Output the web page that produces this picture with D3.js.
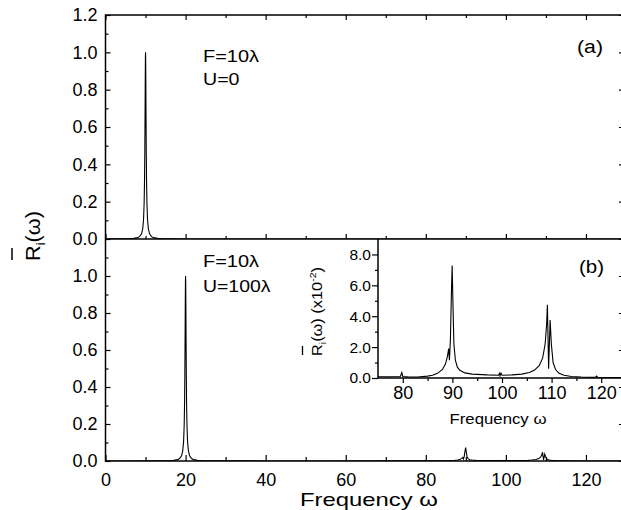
<!DOCTYPE html>
<html><head><meta charset="utf-8">
<script src="https://cdn.jsdelivr.net/npm/d3@7"></script>
<style>body{margin:0;background:#fff}svg{display:block}text{fill:#000}</style>
</head><body><svg id="c" width="621" height="510"></svg>
<script>
// ---------------- DATA ----------------
// Panel (a): F=10λ, U=0
const freqA = [0, 3, 5, 6, 7, 8, 8.5, 9, 9.3, 9.5, 9.65, 9.75, 9.82, 9.88, 9.93, 9.97, 10,
  10.03, 10.07, 10.12, 10.18, 10.25, 10.35, 10.5, 10.7, 11, 11.5, 12, 13, 14, 15, 17, 20, 30, 50, 80, 110, 130];
const valA = [0.0003, 0.0006, 0.0012, 0.0018, 0.0032, 0.0072, 0.0127, 0.028, 0.056, 0.104, 0.191, 0.316, 0.471, 0.667, 0.855, 0.970, 1.0,
  0.970, 0.855, 0.667, 0.471, 0.316, 0.191, 0.104, 0.056, 0.028, 0.0127, 0.0072, 0.0032, 0.0018, 0.0012, 0.0006, 0.0003, 0.00007, 0.00002, 0.00001, 0, 0];

// Panel (b): F=10λ, U=100λ (absolute values; the inset shows them in units of 10^-2)
const freqB = [0, 5, 10, 13, 15, 16, 17, 18, 18.5, 19, 19.3, 19.5, 19.65, 19.75, 19.82, 19.88, 19.93, 19.97, 20,
  20.03, 20.07, 20.12, 20.18, 20.25, 20.35, 20.5, 20.7, 21, 21.5, 22, 23, 24, 25, 27, 30, 40, 55, 70,
  75, 78, 79.5, 79.8, 80, 81, 83, 85, 86, 87, 88, 88.6, 89, 89.25, 89.4, 89.6, 89.8, 89.95, 90.1, 90.3,
  90.6, 91, 91.5, 92.5, 94, 97, 99.3, 99.5, 99.6, 99.8, 100, 102, 104, 105.5, 106.5, 107.5, 108.2, 108.7, 109, 109.15,
  109.4, 109.7, 109.95, 110.3, 110.8, 111.5, 112.5, 114, 116, 118.8, 119.1, 119.3, 121, 125, 130];
const valB = [0.0003, 0.0003, 0.0005, 0.0008, 0.0014, 0.002, 0.0034, 0.0074, 0.013, 0.028, 0.056, 0.104, 0.191, 0.316, 0.471, 0.667, 0.855, 0.970, 1.0,
  0.970, 0.855, 0.667, 0.471, 0.316, 0.191, 0.104, 0.056, 0.028, 0.013, 0.0074, 0.0034, 0.002, 0.0014, 0.0008, 0.0005, 0.0004, 0.0004, 0.0006,
  0.0008, 0.0008, 0.0010, 0.0035, 0.0010, 0.0007, 0.0006, 0.0012, 0.0018, 0.0030, 0.0055, 0.0090, 0.0140, 0.0190, 0.0115, 0.0250, 0.0550, 0.0728, 0.0500, 0.0220,
  0.0115, 0.0070, 0.0050, 0.0033, 0.0025, 0.0020, 0.0018, 0.0030, 0.0015, 0.0032, 0.0018, 0.0020, 0.0025, 0.0035, 0.0050, 0.0080, 0.0130, 0.0220, 0.0350, 0.0474,
  0.0060, 0.0376, 0.0220, 0.0100, 0.0055, 0.0030, 0.0018, 0.0010, 0.0006, 0.0004, 0.0012, 0.0004, 0.0003, 0.0002, 0.0002];

// Ticks
const xMajor = [0, 20, 40, 60, 80, 100, 120];
const xMinor = [10, 30, 50, 70, 90, 110, 130];
const yMajorTop = [0, 0.2, 0.4, 0.6, 0.8, 1.0, 1.2];
const yMajorBot = [0, 0.2, 0.4, 0.6, 0.8, 1.0];
const yMinor = [0.1, 0.3, 0.5, 0.7, 0.9, 1.1];
const inXMajor = [80, 90, 100, 110, 120];
const inXMinor = [85, 95, 105, 115];
const inYMajor = [0, 2, 4, 6, 8];
const inYMinor = [1, 3, 5, 7];

// Texts
const annA = ["F=10λ", "U=0"];
const annB = ["F=10λ", "U=100λ"];
const panelLabels = ["(a)", "(b)"];
const xTitle = "Frequency ω";

// ---------------- DRAW ----------------
const FONT = '"Liberation Sans", Arial, Helvetica, sans-serif';
const svg = d3.select("#c");
svg.append("rect").attr("width", 621).attr("height", 510).attr("fill", "#fff");

const L = 105.5, R = 626, T = 15, MID = 239, B = 461;
const x = d3.scaleLinear().domain([0, 130]).range([L, R]);
const yTop = d3.scaleLinear().domain([0, 1.2]).range([MID, T]);
const yBot = d3.scaleLinear().domain([0, 1.2]).range([B, MID]);
const IL = 378, IB = 378;
const xIn = d3.scaleLinear().domain([75, 125]).range([IL, R]);
const yIn = d3.scaleLinear().domain([0, 9]).range([IB, MID]);

function style(g, fs) {
  g.select(".domain").remove();
  g.attr("font-family", FONT).attr("font-size", fs);
  g.selectAll(".tick line").attr("stroke", "#000").attr("stroke-width", 1.2);
  g.selectAll(".tick text").attr("fill", "#000");
  return g;
}
function axis(fn, scale, vals, size, pad, fmt, tr, fs) {
  const a = fn(scale).tickValues(vals).tickSize(size).tickPadding(pad)
    .tickFormat(fmt ? d3.format(fmt) : () => "");
  return style(svg.append("g").attr("transform", tr).call(a), fs || 18);
}

// clip paths
const defs = svg.append("defs");
defs.append("clipPath").attr("id", "cA").append("rect").attr("x", L).attr("y", T).attr("width", R - L).attr("height", MID - T);
defs.append("clipPath").attr("id", "cB").append("rect").attr("x", L).attr("y", MID).attr("width", R - L).attr("height", B - MID);
defs.append("clipPath").attr("id", "cI").append("rect").attr("x", IL).attr("y", MID).attr("width", R - IL).attr("height", IB - MID);

// curves
const dataA = freqA.map((f, i) => [f, valA[i]]);
const dataB = freqB.map((f, i) => [f, valB[i]]);
const dataI = freqB.map((f, i) => [f, valB[i] * 100]);
svg.append("path").attr("clip-path", "url(#cA)").attr("fill", "none").attr("stroke", "#000").attr("stroke-width", 1.1)
  .attr("d", d3.line().x(d => x(d[0])).y(d => yTop(d[1]))(dataA));
svg.append("path").attr("clip-path", "url(#cB)").attr("fill", "none").attr("stroke", "#000").attr("stroke-width", 1.1)
  .attr("d", d3.line().x(d => x(d[0])).y(d => yBot(d[1]))(dataB));
svg.append("path").attr("clip-path", "url(#cI)").attr("fill", "none").attr("stroke", "#000").attr("stroke-width", 1.1)
  .attr("d", d3.line().x(d => xIn(d[0])).y(d => yIn(d[1]))(dataI));

// Top panel ticks
axis(d3.axisLeft, yTop, yMajorTop, -5, 8, ".1f", `translate(${L},0)`);
axis(d3.axisLeft, yTop, yMinor, -3, 8, null, `translate(${L},0)`);
axis(d3.axisRight, yTop, yMajorTop, -7, 8, null, `translate(${R},0)`);
axis(d3.axisRight, yTop, yMinor, -4, 8, null, `translate(${R},0)`);
axis(d3.axisTop, x, xMajor, -5, 8, null, `translate(0,${T})`);
axis(d3.axisTop, x, xMinor, -3, 8, null, `translate(0,${T})`);
axis(d3.axisBottom, x, xMajor, -5, 8, null, `translate(0,${MID})`);
axis(d3.axisBottom, x, xMinor, -3, 8, null, `translate(0,${MID})`);

// Bottom panel ticks
axis(d3.axisLeft, yBot, yMajorBot, -5, 8, ".1f", `translate(${L},0)`);
axis(d3.axisLeft, yBot, yMinor, -3, 8, null, `translate(${L},0)`);
axis(d3.axisRight, yBot, yMajorBot, -7, 8, null, `translate(${R},0)`);
axis(d3.axisRight, yBot, yMinor, -4, 8, null, `translate(${R},0)`);
axis(d3.axisBottom, x, xMajor, -6, 12, "d", `translate(0,${B})`);
axis(d3.axisBottom, x, xMinor, -4, 12, null, `translate(0,${B})`);

// frames
svg.append("rect").attr("x", L).attr("y", T).attr("width", R - L).attr("height", B - T)
  .attr("fill", "none").attr("stroke", "#000").attr("stroke-width", 1.5);
svg.append("line").attr("x1", L).attr("x2", R).attr("y1", MID).attr("y2", MID).attr("stroke", "#000").attr("stroke-width", 1.5);

// Inset axes
axis(d3.axisLeft, yIn, inYMajor, 6, 1, ".1f", `translate(${IL},0)`, 15.5);
axis(d3.axisLeft, yIn, inYMinor, 3, 1, null, `translate(${IL},0)`, 15.5);
axis(d3.axisBottom, xIn, inXMajor, 5, 3.5, "d", `translate(0,${IB})`, 18);
axis(d3.axisBottom, xIn, inXMinor, 3, 3.5, null, `translate(0,${IB})`, 18);
svg.append("line").attr("x1", IL).attr("x2", IL).attr("y1", MID).attr("y2", IB).attr("stroke", "#000").attr("stroke-width", 1.5);
svg.append("line").attr("x1", IL).attr("x2", R).attr("y1", IB).attr("y2", IB).attr("stroke", "#000").attr("stroke-width", 1.5);

// Annotations
function txt(s, px, py, fs, len, anchor) {
  const t = svg.append("text").attr("x", px).attr("y", py).attr("font-family", FONT).attr("font-size", fs)
    .attr("text-anchor", anchor || "start").text(s);
  if (len) t.attr("textLength", len).attr("lengthAdjust", "spacingAndGlyphs");
  return t;
}
txt(annA[0], 203, 62, 17, 56);
txt(annA[1], 203, 85, 17, 36.5);
txt(annB[0], 203, 267, 17, 56);
txt(annB[1], 203, 292, 17, 67.5);
txt(panelLabels[0], 577, 52.5, 18, 26);
txt(panelLabels[1], 579, 273, 18, 25);

// X titles
txt(xTitle, 369, 505.5, 18.5, 138, "middle");
txt(xTitle, 498, 424, 15, 97, "middle");

// Main Y title: R̄_i(ω)
const yt = svg.append("g").attr("transform", "translate(40,261) rotate(-90)");
const t1 = yt.append("text").attr("font-family", FONT).attr("font-size", 21)
  .attr("textLength", 50).attr("lengthAdjust", "spacingAndGlyphs");
t1.append("tspan").text("R");
t1.append("tspan").attr("font-size", 12).attr("dy", 5).text("i");
t1.append("tspan").attr("dy", -5).text("(ω)");
yt.append("line").attr("x1", 1).attr("x2", 13).attr("y1", -28).attr("y2", -28).attr("stroke", "#000").attr("stroke-width", 1.5);

// Inset Y title: R̄_i(ω) (x10^-2)
const yi = svg.append("g").attr("transform", "translate(322,356) rotate(-90)");
const t2 = yi.append("text").attr("font-family", FONT).attr("font-size", 14)
  .attr("textLength", 89).attr("lengthAdjust", "spacingAndGlyphs");
t2.append("tspan").text("R");
t2.append("tspan").attr("font-size", 9).attr("dy", 4).text("i");
t2.append("tspan").attr("dy", -4).text("(ω) (x10");
t2.append("tspan").attr("font-size", 9).attr("dy", -6).text("-2");
t2.append("tspan").attr("dy", 6).text(")");
yi.append("line").attr("x1", 1).attr("x2", 10).attr("y1", -19.5).attr("y2", -19.5).attr("stroke", "#000").attr("stroke-width", 1.3);
</script></body></html>
